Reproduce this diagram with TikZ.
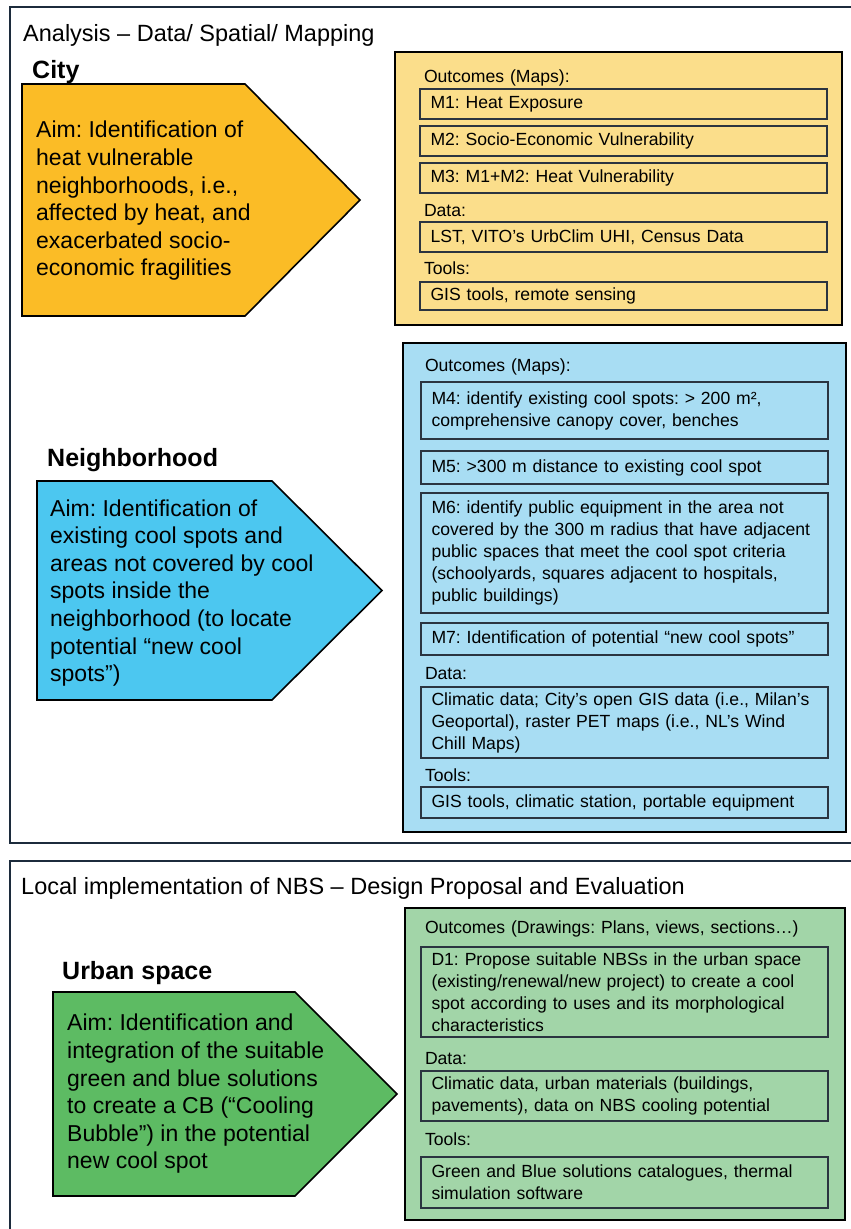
\documentclass[tikz,border=0pt]{standalone}
\usepackage{fontspec}
\setmainfont{Liberation Sans}
\usepackage{xcolor}
\usepackage{tikz}
\usetikzlibrary{positioning}
\definecolor{frameNavy}{HTML}{1C2B3C}
\definecolor{boxLine}{HTML}{2B3440}
\definecolor{cityOrange}{HTML}{FBBC26}
\definecolor{cityPale}{HTML}{FBDE8B}
\definecolor{nbhBlue}{HTML}{4CC7F0}
\definecolor{nbhPale}{HTML}{A8DDF3}
\definecolor{urbGreen}{HTML}{5DBB63}
\definecolor{urbPale}{HTML}{A2D5A8}
\frenchspacing

\begin{document}
\begin{tikzpicture}[x=1pt,y=-1pt,
    sectframe/.style={draw=frameNavy,line width=2.5pt},
    outpanel/.style={draw=black,line width=2pt},
    aimshape/.style={draw=black,line width=1.6pt,line join=miter},
    aimtext/.style={anchor=west,align=left,inner sep=0pt,font=\fontsize{23}{27.6}\selectfont},
    levelhead/.style={anchor=base west,inner sep=0pt,font=\fontsize{25}{30}\selectfont\bfseries},
    secthead/.style={anchor=base west,inner sep=0pt,font=\fontsize{23.5}{28}\selectfont},
    mapbox/.style={draw=boxLine,line width=1.2pt,text width=386pt,inner xsep=10.5pt,inner ysep=1pt,
      outer sep=0pt,align=left,font=\fontsize{17.6}{22}\selectfont},
    lbl/.style={text width=399pt,inner xsep=4pt,inner ysep=0pt,text height=13pt,text depth=4pt,
      outer sep=0pt,align=left,font=\fontsize{17.6}{22}\selectfont}]
  \useasboundingbox (0,0) rectangle (851,1229);
  \clip (0,0) rectangle (851,1229);

  % analysis section
  \draw[sectframe] (10,7) rectangle (880,843);
  \node[secthead] (analysis) at (23,41.7) {Analysis – Data/ Spatial/ Mapping};

  \node[levelhead] (city) at (32,78) {City};
  \draw[aimshape,fill=cityOrange] (22,84) -- (245,84) -- (360,200) -- (245,316) -- (22,316) -- cycle;
  \node[aimtext] (cityaim) at (36,201)
    {Aim: Identification of\\heat vulnerable\\neighborhoods, i.e.,\\affected by heat, and\\exacerbated socio-\\economic fragilities};
  \draw[outpanel,fill=cityPale] (395,52) rectangle (842,325);
  \node[lbl,anchor=north west] (cityout) at (420,69.5) {Outcomes (Maps):};
  \node[mapbox,minimum height=30pt,below=2.5pt of cityout] (m1) {M1: Heat Exposure};
  \node[mapbox,minimum height=30pt,below=7pt of m1] (m2) {M2: Socio-Economic Vulnerability};
  \node[mapbox,minimum height=30pt,below=7pt of m2] (m3) {M3: M1+M2: Heat Vulnerability};
  \node[lbl,below=10.5pt of m3] (citydata) {Data:};
  \node[mapbox,minimum height=30pt,below=1.5pt of citydata] (citydatabox) {LST, VITO’s UrbClim UHI, Census Data};
  \node[lbl,below=9.5pt of citydatabox] (citytools) {Tools:};
  \node[mapbox,minimum height=28pt,below=3.5pt of citytools] (citytoolbox) {GIS tools, remote sensing};

  \node[levelhead] (nbh) at (47,466.7) {Neighborhood};
  \draw[aimshape,fill=nbhBlue] (37,481) -- (272,481) -- (382,590.5) -- (272,700) -- (37,700) -- cycle;
  \node[aimtext] (nbhaim) at (50,593)
    {Aim: Identification of\\existing cool spots and\\areas not covered by cool\\spots inside the\\neighborhood (to locate\\potential “new cool\\spots”)};
  \draw[outpanel,fill=nbhPale] (403,343) rectangle (846,832);
  \node[lbl,anchor=north west] (nbhout) at (421,358.5) {Outcomes (Maps):};
  \node[mapbox,minimum height=57pt,below=6.5pt of nbhout] (m4)
    {M4: identify existing cool spots: > 200 m²,\\comprehensive canopy cover, benches};
  \node[mapbox,minimum height=33pt,below=12pt of m4] (m5) {M5: >300 m distance to existing cool spot};
  \node[mapbox,minimum height=120pt,below=9pt of m5] (m6)
    {M6: identify public equipment in the area not\\covered by the 300 m radius that have adjacent\\public spaces that meet the cool spot criteria\\(schoolyards, squares adjacent to hospitals,\\public buildings)};
  \node[mapbox,minimum height=32pt,below=10pt of m6] (m7) {M7: Identification of potential “new cool spots”};
  \node[lbl,below=11.5pt of m7] (nbhdata) {Data:};
  \node[mapbox,minimum height=71pt,below=3.5pt of nbhdata] (nbhdatabox)
    {Climatic data; City’s open GIS data (i.e., Milan’s\\Geoportal), raster PET maps (i.e., NL’s Wind\\Chill Maps)};
  \node[lbl,below=10.5pt of nbhdatabox] (nbhtools) {Tools:};
  \node[mapbox,minimum height=31pt,below=1.5pt of nbhtools] (nbhtoolbox) {GIS tools, climatic station, portable equipment};

  % implementation section
  \draw[sectframe] (10,861) rectangle (880,1260);
  \node[secthead] (localnbs) at (21,894) {Local implementation of NBS – Design Proposal and Evaluation};

  \node[levelhead] (urb) at (62,979) {Urban space};
  \draw[aimshape,fill=urbGreen] (53,992) -- (295,992) -- (397,1094) -- (295,1196) -- (53,1196) -- cycle;
  \node[aimtext] (urbaim) at (67,1094)
    {Aim: Identification and\\integration of the suitable\\green and blue solutions\\to create a CB (“Cooling\\Bubble”) in the potential\\new cool spot};
  \draw[outpanel,fill=urbPale] (405,908) rectangle (845,1220);
  \node[lbl,anchor=north west] (urbout) at (421,920.5) {Outcomes (Drawings: Plans, views, sections…)};
  \node[mapbox,minimum height=90pt,below=9.5pt of urbout] (d1)
    {D1: Propose suitable NBSs in the urban space\\(existing/renewal/new project) to create a cool\\spot according to uses and its morphological\\characteristics};
  \node[lbl,below=14.5pt of d1] (urbdata) {Data:};
  \node[mapbox,minimum height=50pt,below=2.5pt of urbdata] (urbdatabox)
    {Climatic data, urban materials (buildings,\\pavements), data on NBS cooling potential};
  \node[lbl,below=11.5pt of urbdatabox] (urbtools) {Tools:};
  \node[mapbox,minimum height=51pt,below=7.5pt of urbtools] (urbtoolbox)
    {Green and Blue solutions catalogues, thermal\\simulation software};
\end{tikzpicture}
\end{document}
